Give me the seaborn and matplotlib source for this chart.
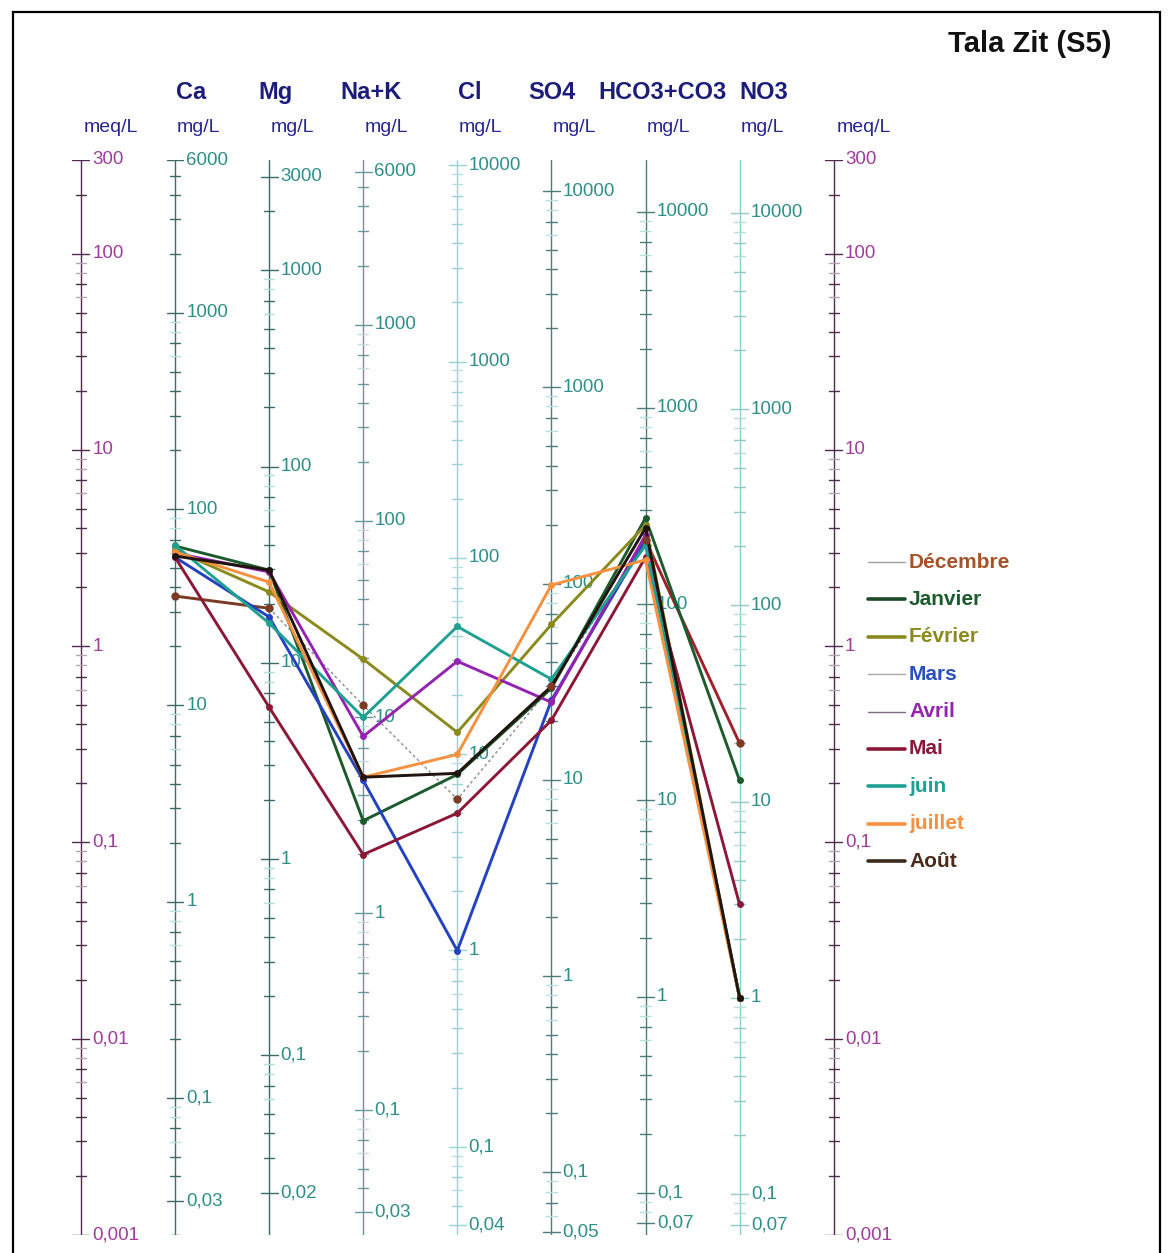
import numpy as np
import pandas as pd
import seaborn as sns
import matplotlib.pyplot as plt
from matplotlib.lines import Line2D
from matplotlib.patches import Rectangle

# ions on the diagram and their equivalent weights (mg per meq)
ions = ['Ca', 'Mg', 'Na+K', 'Cl', 'SO4', 'HCO3+CO3', 'NO3']
eq_weight = [20.04, 12.15, 23.0, 35.45, 48.03, 61.02, 62.0]

# values in meq/L, one list per month
decembre = [1.80, 1.56, 0.50, 0.166, 0.625, 3.47, 0.320]
janvier = [3.24, 2.44, 0.129, 0.222, 0.610, 4.50, 0.207]
fevrier = [3.09, 1.89, 0.859, 0.364, 1.29, 4.14, 0.0162]
mars = [2.84, 1.41, 0.207, 0.0281, 0.530, 3.47, 0.0162]
avril = [2.98, 2.39, 0.347, 0.838, 0.518, 3.68, 0.0162]
mai = [2.84, 0.489, 0.0868, 0.141, 0.419, 2.84, 0.0483]
juin = [3.27, 1.31, 0.434, 1.26, 0.679, 3.27, 0.0162]
juillet = [3.02, 2.12, 0.215, 0.281, 2.05, 2.75, 0.0162]
aout = [2.88, 2.44, 0.215, 0.225, 0.625, 4.00, 0.0162]

months = ['Décembre', 'Janvier', 'Février', 'Mars', 'Avril', 'Mai', 'juin', 'juillet', 'Août']
series = [decembre, janvier, fevrier, mars, avril, mai, juin, juillet, aout]
line_colors = ['#7b3a26', '#1d5a2c', '#8a8a1e', '#2442c0', '#9424b0', '#8c1838', '#1fa091', '#f59141', '#20140c']
text_colors = ['#a4542a', '#1d5a2c', '#8a8a1e', '#2a4fc0', '#9424b0', '#8c1838', '#1fa091', '#f59141', '#4a2c1c']

# mg/L scale labels shown on each column
col_labels = [
    ['6000', '1000', '100', '10', '1', '0,1', '0,03'],
    ['3000', '1000', '100', '10', '1', '0,1', '0,02'],
    ['6000', '1000', '100', '10', '1', '0,1', '0,03'],
    ['10000', '1000', '100', '10', '1', '0,1', '0,04'],
    ['10000', '1000', '100', '10', '1', '0,1', '0,05'],
    ['10000', '1000', '100', '10', '1', '0,1', '0,07'],
    ['10000', '1000', '100', '10', '1', '0,1', '0,07'],
]
meq_labels = ['300', '100', '10', '1', '0,1', '0,01', '0,001']

W, H = 1173, 1253
sns.set_style('white')
plt.rcParams['font.family'] = ['Liberation Sans', 'DejaVu Sans']

fig = plt.figure(figsize=(W / 100, H / 100), dpi=100)
step = 94.1
ax = fig.add_axes([0, (H - 1235) / H, 1, 1075 / H])
ax.set_yscale('log')
ax.set_xlim(-175 / step, (W - 175) / step)
ax.set_ylim(0.001, 300)
ax.axis('off')


def px(x, y):
    return x / W, 1 - y / H


def num(s):
    return float(s.replace(',', '.'))


def draw_scale(x, eqw, labels, line_c, lab_c, light_c):
    ax.plot([x, x], [0.001, 300], color=line_c, lw=1.0, zorder=1)
    labelled = [num(s) / eqw for s in labels]
    for e in range(-3, 5):
        for m in range(1, 10):
            v = m * 10.0 ** e / eqw
            if v < 0.00099 or v > 301:
                continue
            major = m == 1 or any(abs(np.log10(v / lv)) < 1e-3 for lv in labelled)
            half = 0.09 if major else 0.055
            c = light_c if (m in (6, 8, 9) and not major) else line_c
            ax.plot([x - half, x + half], [v, v], color=c, lw=1.0, zorder=1)
    for s, v in zip(labels, labelled):
        ax.text(x + 0.12, v, s, color=lab_c, fontsize=13.5, va='center', ha='left')


# meq/L scales on both sides
for xm in (-1, 7):
    draw_scale(xm, 1.0, meq_labels, '#4e2c4e', '#a03c9c', '#b9a0b9')

col_line = ['#3c6a6a', '#3c6a6a', '#5d9c9c', '#96d4d4', '#4c7c7c', '#4c7c7c', '#8ccccc']
for i in range(len(ions)):
    draw_scale(i, eq_weight[i], col_labels[i], col_line[i], '#2e8f8a', '#b4e0e0')

# headers
tr = ax.get_xaxis_transform()
head_off = [0.17, 0.07, 0.08, 0.13, 0.01, 0.18, 0.26]
for i, name in enumerate(ions):
    ax.text(i + head_off[i], 1.063, name, transform=tr, ha='center', va='center',
            fontsize=17, fontweight='bold', color='#1c1c7a')
    ax.text(i + 0.245, 1.030, 'mg/L', transform=tr, ha='center', va='center',
            fontsize=14, color='#262690')
for xm in (-1, 7):
    ax.text(xm + 0.32, 1.030, 'meq/L', transform=tr, ha='center', va='center',
            fontsize=14, color='#262690')

# month lines
pos = list(range(len(ions)))
for name, vals, c in zip(months, series, line_colors):
    if name == 'Décembre':
        sns.lineplot(x=pos[1:6], y=vals[1:6], color='#8a8a8a', lw=1.0, ls=(0, (2, 2)),
                     sort=False, estimator=None, ax=ax, zorder=3)
        sns.lineplot(x=pos[:2], y=vals[:2], color=c, lw=2.1, sort=False,
                     estimator=None, ax=ax, zorder=3)
        sns.lineplot(x=pos[5:], y=vals[5:], color='#a0202c', lw=2.1, sort=False,
                     estimator=None, ax=ax, zorder=3)
        ax.plot(pos, vals, ls='none', marker='o', ms=5, color=c, zorder=4)
    else:
        sns.lineplot(x=pos, y=vals, color=c, lw=2.1, marker='o', markersize=5,
                     markeredgewidth=0, sort=False, estimator=None, ax=ax, zorder=3)

# legend
leg_lw = [1.0, 2.6, 2.6, 1.0, 1.0, 2.6, 2.6, 2.6, 2.6]
leg_lc = ['#a0a0a0', '#1d4a2a', '#8a8a1e', '#a8a8a8', '#806a80', '#8c1838', '#1fa091', '#f59141', '#3e2a1c']
for k, name in enumerate(months):
    y = 562 + 37.4 * k
    x0, y0 = px(868, y)
    x1, _ = px(905, y)
    fig.add_artist(Line2D([x0, x1], [y0, y0], color=leg_lc[k], lw=leg_lw[k]))
    tx, ty = px(909, y)
    fig.text(tx, ty, name, color=text_colors[k], fontsize=15, fontweight='bold',
             ha='left', va='center')

# title and frame
tx, ty = px(1030, 44)
fig.text(tx, ty, 'Tala Zit (S5)', fontsize=21, fontweight='bold', color='#111111',
         ha='center', va='center')
fig.add_artist(Rectangle(px(13, 1300), (1160 - 13) / W, (1300 - 12) / H,
                         transform=fig.transFigure, fill=False, ec='black', lw=1.6))

fig.savefig('out.png', dpi=100)
